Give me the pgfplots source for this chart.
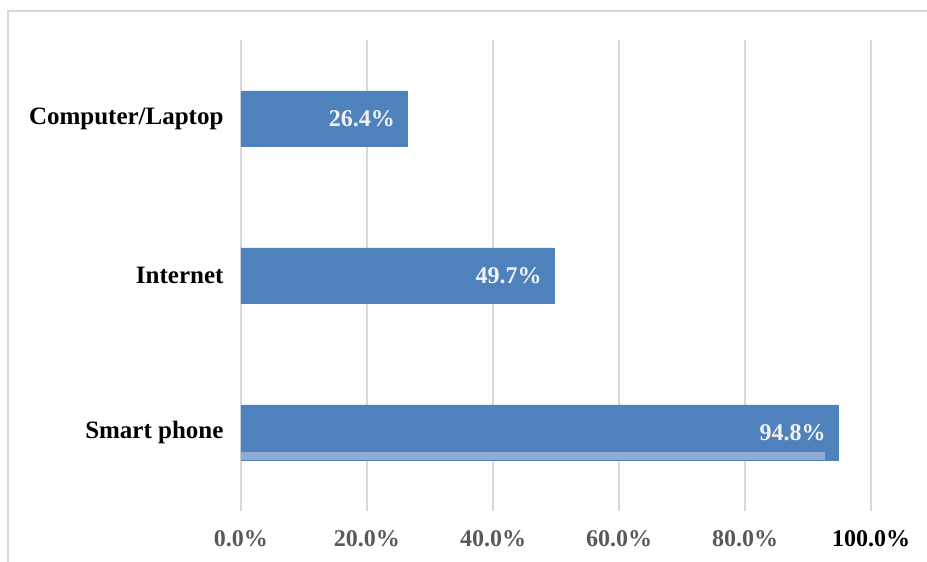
\documentclass[border=0pt]{standalone}
\usepackage{pgfplots}
\pgfplotsset{compat=1.18}
\usepackage{fontspec}
\setmainfont{Liberation Serif}
\definecolor{barblue}{HTML}{4F81BD}
\definecolor{striplight}{HTML}{8EABD5}
\definecolor{gridgray}{HTML}{D9D9D9}
\definecolor{ticgray}{HTML}{595959}
\definecolor{lbl}{HTML}{F2F2F2}
\begin{document}
\begin{tikzpicture}[x=1pt,y=1pt]
\useasboundingbox (0,0) rectangle (927,562);
\draw[gridgray, line width=2.5pt] (8,-20) -- (8,551) -- (960,551);
\begin{axis}[at={(241pt,51pt)}, anchor=south west, scale only axis,
  width=630pt, height=471pt,
  xbar, xmin=0, xmax=100, ymin=-0.5, ymax=2.5, enlargelimits=false,
  axis line style={draw=none}, tick style={draw=none}, major tick length=0pt,
  xmajorgrids, major grid style={gridgray, line width=1.6pt},
  xtick={0,20,40,60,80,100},
  xticklabels={\textcolor{ticgray}{0.0\%},\textcolor{ticgray}{20.0\%},\textcolor{ticgray}{40.0\%},\textcolor{ticgray}{60.0\%},\textcolor{ticgray}{80.0\%},\textcolor{black}{100.0\%}},
  xticklabel style={font=\fontsize{24}{28}\selectfont\bfseries, yshift=-16pt},
  ytick={0,1,2},
  yticklabels={Smart phone,Internet,Computer/Laptop},
  yticklabel style={font=\fontsize{25}{29}\selectfont\bfseries, xshift=-14pt},
]
\addplot[fill=barblue, draw=barblue, bar width=55pt, bar shift=0pt,
  nodes near coords={\pgfmathprintnumber[fixed,fixed zerofill,precision=1,assume math mode=true]{\pgfplotspointmeta}\%},
  nodes near coords style={anchor=east, xshift=-9pt, text=lbl, font=\fontsize{24}{28}\selectfont\bfseries}]
  coordinates {(94.8,0) (49.7,1) (26.4,2)};
\addplot[fill=striplight, draw=none, bar width=8pt, bar shift=-23.5pt]
  coordinates {(92.7,0)};
\end{axis}
\end{tikzpicture}
\end{document}
